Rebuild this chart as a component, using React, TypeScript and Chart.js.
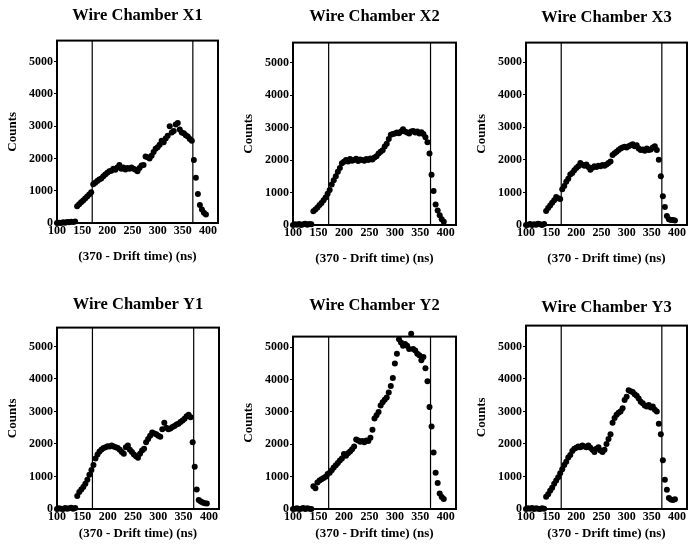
import { useEffect, useRef } from "react";
import { Chart, registerables } from "chart.js";

Chart.register(...registerables);

// Drift-time bins (ns), shared by every chamber
const driftTime = [
  100, 104, 108, 112, 116, 120, 124, 128, 132, 136,
  140, 144, 148, 152, 156, 160, 164, 168, 172, 176,
  180, 184, 188, 192, 196, 200, 204, 208, 212, 216,
  220, 224, 228, 232, 236, 240, 244, 248, 252, 256,
  260, 264, 268, 272, 276, 280, 284, 288, 292, 296,
  300, 304, 308, 312, 316, 320, 324, 328, 332, 336,
  340, 344, 348, 352, 356, 360, 364, 368, 372, 376,
  380, 384, 388, 392, 396,
];

const countsX1 = [
  0, 10, 0, 20, 10, 30, 20, 40, 30, 50,
  520, 580, 640, 700, 760, 820, 880, 950, 1200, 1250,
  1300, 1350, 1380, 1450, 1500, 1560, 1600, 1620, 1680, 1650,
  1720, 1800, 1680, 1720, 1660, 1700, 1680, 1720, 1680, 1650,
  1600, 1700, 1780, 1800, 2060, 2040, 2000, 2080, 2200, 2300,
  2350, 2420, 2550, 2500, 2620, 2700, 3000, 2800, 2850, 3050,
  3100, 2900, 2800, 2780, 2720, 2680, 2600, 2550, 1950, 1400,
  900, 560, 420, 320, 260,
];

const countsX2 = [
  0, 20, 10, 30, 0, 20, 40, 10, 30, 20,
  420, 480, 540, 620, 680, 760, 850, 960, 1080, 1250,
  1380, 1500, 1640, 1760, 1900, 1950, 2000, 1960, 2030, 1980,
  2000, 2040, 1970, 2020, 2000, 1980, 2030, 2000, 2050, 2020,
  2080, 2120, 2200, 2260, 2300, 2420, 2500, 2650, 2780, 2800,
  2820, 2850, 2830, 2880, 2950, 2880, 2850, 2820, 2880, 2900,
  2850, 2880, 2820, 2860, 2800, 2700, 2550, 2200, 1550, 1050,
  630, 450, 300, 180, 100,
];

const countsX3 = [
  0, 10, 30, 0, 20, 10, 40, 20, 0, 30,
  430, 520, 600, 680, 760, 860, 820, 800, 1100, 1200,
  1330, 1420, 1550, 1600, 1680, 1750, 1800, 1900, 1850, 1820,
  1860, 1780, 1700, 1760, 1800, 1780, 1820, 1800, 1840, 1820,
  1860, 1900, 1950, 2150, 2200, 2250, 2300, 2350, 2380, 2400,
  2380, 2420, 2450, 2480, 2420, 2450, 2350, 2300, 2320, 2280,
  2350, 2300, 2320, 2380, 2420, 2300, 2000, 1500, 880, 550,
  280, 180, 150, 150, 140,
];

const countsY1 = [
  0, 20, 10, 0, 30, 10, 20, 40, 10, 30,
  400, 520, 600, 680, 780, 900, 1050, 1200, 1350, 1550,
  1680, 1770, 1830, 1880, 1900, 1930, 1920, 1950, 1920, 1900,
  1880, 1820, 1750, 1700, 1900, 1950, 1820, 1750, 1680, 1620,
  1580, 1700, 1800, 1850, 2050, 2150, 2250, 2350, 2320, 2300,
  2250, 2220, 2450, 2650, 2500, 2450, 2480, 2520, 2550, 2600,
  2620, 2680, 2720, 2780, 2850, 2900, 2820, 2050, 1300, 600,
  280, 230, 200, 180, 170,
];

const countsY2 = [
  0, 10, 20, 0, 10, 30, 0, 20, 10, 0,
  700, 640, 820, 880, 920, 960, 1000, 1080, 1120, 1200,
  1280, 1350, 1420, 1500, 1560, 1700, 1650, 1720, 1780, 1850,
  1930, 2150, 2120, 2080, 2100, 2060, 2120, 2100, 2200, 2450,
  2800, 2900, 3000, 3200, 3300, 3380, 3450, 3600, 3800, 4050,
  4500, 4800, 5250, 5150, 5050, 5100, 5050, 4950, 5420, 4950,
  4900, 4800, 4750, 4600, 4700, 4350, 3950, 3150, 2550, 1750,
  1120, 800, 480, 370, 310,
];

const countsY3 = [
  0, 20, 10, 30, 0, 20, 10, 0, 20, 10,
  380, 450, 560, 650, 780, 880, 980, 1100, 1220, 1350,
  1450, 1580, 1660, 1780, 1850, 1880, 1920, 1900, 1950, 1920,
  1900, 1950, 1880, 1820, 1750, 1850, 1900, 1800, 1750, 1820,
  2000, 2150, 2300, 2650, 2800, 2900, 2960, 3000, 3100, 3350,
  3450, 3650, 3620, 3600, 3530, 3480, 3400, 3300, 3250, 3180,
  3150, 3200, 3120, 3150, 3050, 3000, 2620, 2300, 1500, 900,
  590, 340, 290, 280, 300,
];

const chamberNames = [
  "Wire Chamber X1",
  "Wire Chamber X2",
  "Wire Chamber X3",
  "Wire Chamber Y1",
  "Wire Chamber Y2",
  "Wire Chamber Y3",
];
const seriesList = [countsX1, countsX2, countsX3, countsY1, countsY2, countsY3];

// Timing window edges (ns)
const windowEdges = [170, 370];

const xTickValues = [100, 150, 200, 250, 300, 350, 400];
const yTickValues = [0, 1000, 2000, 3000, 4000, 5000];
const xRange = [100, 420];
const yMaxima = [5650, 5620, 5600, 5580, 5330, 5640];
const xAxisTitle = "(370 - Drift time) (ns)";
const yAxisTitle = "Counts";

// Placement of each panel on the page
const panelLayout = [
  { left: 0, top: 0, width: 222, height: 268, titleTop: 5.4, titleBottom: 15.4, xAxisHeight: 45 },
  { left: 236, top: 0, width: 224, height: 270, titleTop: 6.4, titleBottom: 16.4, xAxisHeight: 45 },
  { left: 469, top: 0, width: 222, height: 270, titleTop: 7.4, titleBottom: 15.4, xAxisHeight: 45 },
  { left: 0, top: 274, width: 223, height: 271, titleTop: 20.4, titleBottom: 13.4, xAxisHeight: 36 },
  { left: 236, top: 274, width: 224, height: 271, titleTop: 21.4, titleBottom: 21.4, xAxisHeight: 36 },
  { left: 469, top: 274, width: 222, height: 271, titleTop: 23.4, titleBottom: 8.4, xAxisHeight: 36 },
];

const SERIF = "'Liberation Serif', 'Times New Roman', serif";

// Box drawn around the plotting area
const framePlugin = {
  id: "frame",
  beforeDatasetsDraw(chart: any) {
    const { ctx, chartArea } = chart;
    const { left, top, right, bottom } = chartArea;
    ctx.save();
    ctx.strokeStyle = "#000";
    ctx.lineWidth = 2;
    ctx.strokeRect(left, top, right - left, bottom - top);
    ctx.restore();
  },
};

function ChamberPlot({ index }: { index: number }) {
  const ref = useRef<HTMLCanvasElement>(null);
  const layout = panelLayout[index];

  useEffect(() => {
    const counts = seriesList[index];
    const yMax = yMaxima[index];
    const points = driftTime.map((t, i) => ({ x: t, y: counts[i] }));
    const edgeSets = windowEdges.map((edge) => ({
      data: [
        { x: edge, y: 0 },
        { x: edge, y: yMax },
      ],
      showLine: true,
      borderColor: "#000",
      borderWidth: 1.2,
      pointRadius: 0,
      pointHoverRadius: 0,
    }));

    const tickFont = { family: SERIF, size: 12, weight: "bold" as const };
    const titleFont = { family: SERIF, size: 13, weight: "bold" as const, lineHeight: 1.2 };

    const chart = new Chart(ref.current as HTMLCanvasElement, {
      type: "scatter",
      data: {
        datasets: [
          ...edgeSets,
          {
            data: points,
            pointRadius: 3,
            pointBackgroundColor: "#000",
            pointBorderWidth: 0,
            clip: false,
          } as any,
        ],
      },
      options: {
        animation: false,
        responsive: false,
        events: [],
        layout: { padding: { left: 0, right: 1, top: 0, bottom: 0 } },
        plugins: {
          legend: { display: false },
          tooltip: { enabled: false },
          title: {
            display: true,
            text: chamberNames[index],
            fullSize: false,
            color: "#000",
            font: { family: SERIF, size: 16.5, weight: "bold", lineHeight: 1.2 },
            padding: { top: layout.titleTop, bottom: layout.titleBottom },
          },
        },
        scales: {
          x: {
            type: "linear",
            min: xRange[0],
            max: xRange[1],
            afterBuildTicks: (s: any) => {
              s.ticks = xTickValues.map((v) => ({ value: v }));
            },
            afterFit: (s: any) => {
              s.height = layout.xAxisHeight;
            },
            grid: { display: false, drawTicks: false },
            border: { display: false },
            ticks: {
              color: "#000",
              font: tickFont,
              padding: 1,
              maxRotation: 0,
              autoSkip: false,
              callback: (v: any) => String(v),
            },
            title: {
              display: true,
              text: xAxisTitle,
              color: "#000",
              font: titleFont,
              padding: { top: 0, bottom: 3.2 },
            },
          },
          y: {
            type: "linear",
            min: 0,
            max: yMax,
            afterBuildTicks: (s: any) => {
              s.ticks = yTickValues.map((v) => ({ value: v }));
            },
            afterFit: (s: any) => {
              s.width = 57;
            },
            grid: {
              display: true,
              drawOnChartArea: false,
              drawTicks: true,
              tickLength: 3,
              color: "#000",
            },
            border: { display: false },
            ticks: {
              color: "#000",
              font: tickFont,
              padding: 1,
              autoSkip: false,
              callback: (v: any) => String(v),
            },
            title: {
              display: true,
              text: yAxisTitle,
              color: "#000",
              font: titleFont,
              padding: { top: 5, bottom: 0 },
            },
          },
        },
      },
      plugins: [framePlugin],
    });
    return () => chart.destroy();
  }, [index]);

  return (
    <canvas
      ref={ref}
      width={layout.width}
      height={layout.height}
      style={{ position: "absolute", left: layout.left, top: layout.top }}
    />
  );
}

export default function App() {
  return (
    <div
      style={{
        position: "fixed",
        left: 0,
        top: 0,
        width: 692,
        height: 548,
        background: "#fff",
        overflow: "hidden",
      }}
    >
      {chamberNames.map((name, i) => (
        <ChamberPlot key={name} index={i} />
      ))}
    </div>
  );
}
